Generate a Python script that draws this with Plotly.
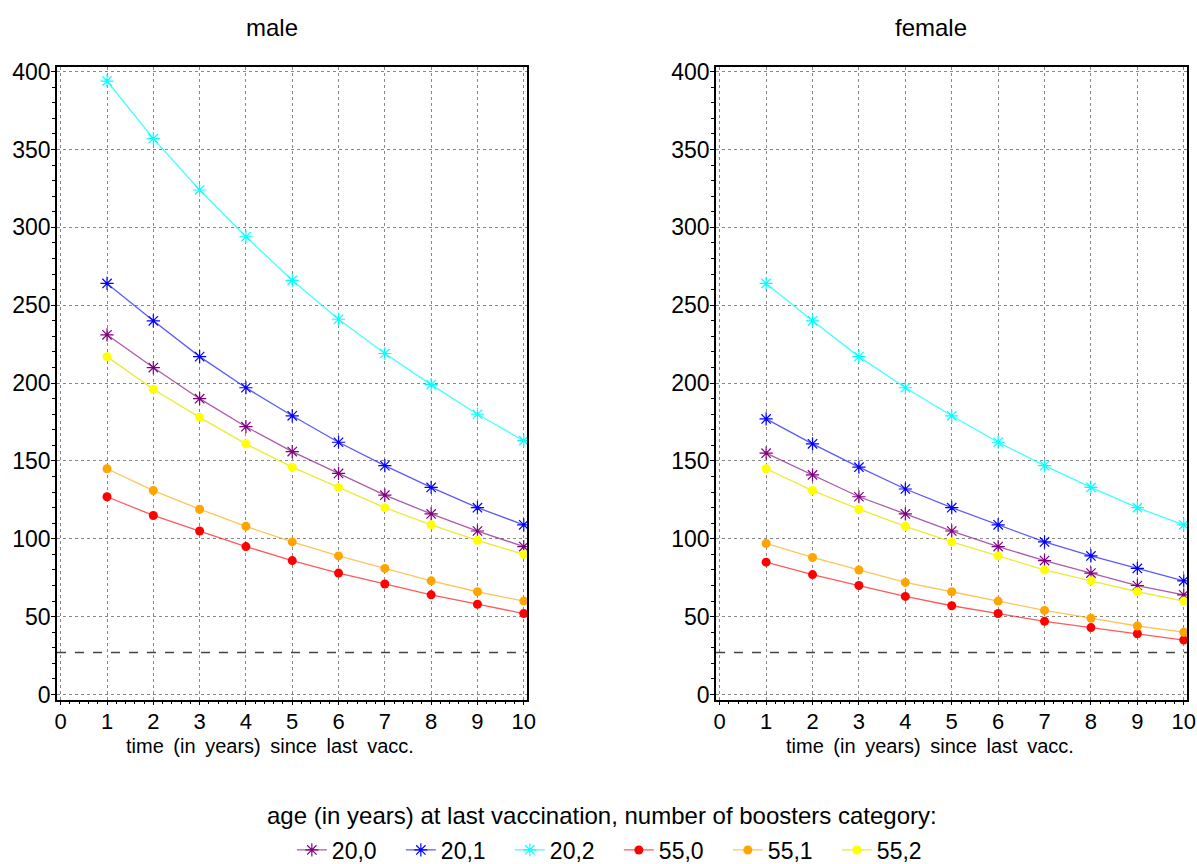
import plotly.graph_objects as go

years = [1, 2, 3, 4, 5, 6, 7, 8, 9, 10]
groups = ["20,0", "20,1", "20,2", "55,0", "55,1", "55,2"]
colors = ["#800080", "#0000FF", "#00FFFF", "#FF0000", "#FFA500", "#FFFF00"]
line_colors = ["rgba(128,0,128,0.65)", "rgba(0,0,255,0.65)", "rgba(0,255,255,0.75)",
               "rgba(255,0,0,0.65)", "rgba(255,165,0,0.65)", "rgba(230,230,0,0.8)"]
symbols = ["asterisk-open", "asterisk-open", "asterisk-open", "circle", "circle", "circle"]

male = {
    "20,0": [231, 210, 190, 172, 156, 142, 128, 116, 105, 95],
    "20,1": [264, 240, 217, 197, 179, 162, 147, 133, 120, 109],
    "20,2": [394, 357, 324, 294, 266, 241, 219, 199, 180, 163],
    "55,0": [127, 115, 105, 95, 86, 78, 71, 64, 58, 52],
    "55,1": [145, 131, 119, 108, 98, 89, 81, 73, 66, 60],
    "55,2": [217, 196, 178, 161, 146, 133, 120, 109, 99, 90],
}
female = {
    "20,0": [155, 141, 127, 116, 105, 95, 86, 78, 70, 64],
    "20,1": [177, 161, 146, 132, 120, 109, 98, 89, 81, 73],
    "20,2": [264, 240, 217, 197, 179, 162, 147, 133, 120, 109],
    "55,0": [85, 77, 70, 63, 57, 52, 47, 43, 39, 35],
    "55,1": [97, 88, 80, 72, 66, 60, 54, 49, 44, 40],
    "55,2": [145, 131, 119, 108, 98, 89, 80, 73, 66, 60],
}
threshold = 27
panel_titles = ["male", "female"]
SP = "\u00a0\u2009"
x_title = SP.join(["time", "(in", "years)", "since", "last", "vacc."])
legend_title = "age (in years) at last vaccination, number of boosters category:"

FONT = "Liberation Sans, Arial, sans-serif"

fig = go.Figure()
for p, data in enumerate([male, female]):
    xa = "x" if p == 0 else "x2"
    ya = "y" if p == 0 else "y2"
    for i, g in enumerate(groups):
        circ = symbols[i] == "circle"
        fig.add_trace(go.Scatter(
            x=years, y=data[g], mode="lines+markers", name=g,
            xaxis=xa, yaxis=ya, showlegend=(p == 0), legendgroup=g,
            line=dict(color=line_colors[i], width=1.3),
            marker=dict(symbol=symbols[i], size=9 if circ else 11,
                        color=colors[i],
                        line=dict(color=colors[i], width=0 if circ else 1.2)),
        ))
    fig.add_shape(type="line", xref=f"{xa} domain", yref=ya, x0=0, x1=1,
                  y0=threshold, y1=threshold,
                  line=dict(color="#444444", width=1.6, dash="dash"))

axis_common = dict(
    showline=True, linecolor="black", linewidth=1.5, mirror=True,
    ticks="outside", ticklen=4, tickwidth=1.2, tickcolor="black",
    showgrid=True, gridcolor="#888888", griddash="dot", gridwidth=1,
    zeroline=False,
)
xcommon = dict(axis_common, range=[-0.08, 10.07], tickmode="linear", tick0=0, dtick=1,
               tickfont=dict(family=FONT, size=22, color="black"), ticklabelstandoff=-3,
               minor=dict(ticks="outside", ticklen=3, dtick=0.2, tickcolor="black", showgrid=False))
ycommon = dict(axis_common, range=[-3.2, 403.2], tickmode="linear", tick0=0, dtick=50,
               tickfont=dict(family=FONT, size=23, color="black"), ticklabelstandoff=-4,
               minor=dict(ticks="outside", ticklen=3, dtick=10, tickcolor="black", showgrid=False))

fig.update_layout(
    width=1197, height=864, margin=dict(l=0, r=0, t=0, b=0, autoexpand=False),
    paper_bgcolor="white", plot_bgcolor="white",
    font=dict(family=FONT, color="black"),
    xaxis=dict(xcommon, domain=[57 / 1197, 527 / 1197], anchor="y"),
    yaxis=dict(ycommon, domain=[1 - 699.5 / 864, 1 - 66.7 / 864], anchor="x"),
    xaxis2=dict(xcommon, domain=[716 / 1197, 1187 / 1197], anchor="y2"),
    yaxis2=dict(ycommon, domain=[1 - 699.5 / 864, 1 - 66.7 / 864], anchor="x2"),
    legend=dict(orientation="h", x=0.517, xanchor="center", y=1 - 850 / 864, yanchor="middle",
                font=dict(family=FONT, size=23, color="black"), itemwidth=30,
                entrywidth=64, entrywidthmode="pixels", tracegroupgap=0),
    showlegend=True,
)
for t, xc in zip(panel_titles, [272, 931]):
    fig.add_annotation(text=t, x=xc / 1197, y=1 - 27 / 864, xref="paper", yref="paper",
                       xanchor="center", yanchor="middle", showarrow=False,
                       font=dict(family=FONT, size=24, color="black"))
for xc in [270, 930]:
    fig.add_annotation(text=x_title, x=xc / 1197, y=1 - 746 / 864, xref="paper", yref="paper",
                       xanchor="center", yanchor="middle", showarrow=False,
                       font=dict(family=FONT, size=20, color="black"))
fig.add_annotation(text=legend_title, x=602 / 1197, y=1 - 815 / 864, xref="paper", yref="paper",
                   xanchor="center", yanchor="middle", showarrow=False,
                   font=dict(family=FONT, size=24, color="black"))

fig.write_html("out.html")
